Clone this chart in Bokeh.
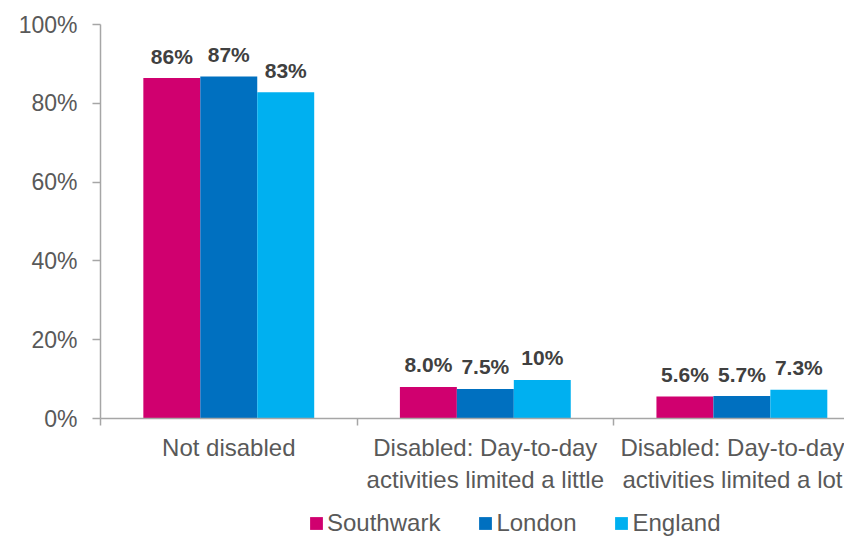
from bokeh.plotting import figure
from bokeh.layouts import column
from bokeh.models import ColumnDataSource, Range1d, FixedTicker, PrintfTickFormatter, Legend, LegendItem
from bokeh.core.properties import value
from bokeh.embed import file_html
from bokeh.resources import INLINE

categories = ["Not disabled",
              "Disabled: Day-to-day\nactivities limited a little",
              "Disabled: Day-to-day\nactivities limited a lot"]
series = ["Southwark", "London", "England"]
southwark = [86.4, 8.0, 5.6]
london = [86.8, 7.5, 5.7]
england = [82.8, 9.8, 7.3]
southwark_labels = ["86%", "8.0%", "5.6%"]
london_labels = ["87%", "7.5%", "5.7%"]
england_labels = ["83%", "10%", "7.3%"]
colors = ["#D0006F", "#0070C0", "#00B0F0"]
y_ticks = [0, 20, 40, 60, 80, 100]

FONT = "Liberation Sans"
BAR_W = 0.222
W = 844

p = figure(width=W, height=500, output_backend="svg", toolbar_location=None,
           x_range=Range1d(0, 2.9), y_range=Range1d(0, 100),
           min_border_left=100, min_border_right=0, min_border_top=24, min_border_bottom=82)
p.outline_line_color = None
p.grid.visible = False

centers = [i + 0.5 for i in range(len(categories))]
values_all = [southwark, london, england]
labels_all = [southwark_labels, london_labels, england_labels]
offsets = [-BAR_W, 0.0, BAR_W]

for name, vals, labs, col, off in zip(series, values_all, labels_all, colors, offsets):
    src = ColumnDataSource(dict(x=[c + off for c in centers], top=vals, lab=labs))
    p.vbar(x="x", top="top", width=BAR_W, bottom=0, source=src,
           fill_color=col, line_color=None)
    p.text(x="x", y="top", text="lab", source=src, text_align="center",
           text_baseline="alphabetic", y_offset=-22,
           text_font=value(FONT), text_font_size="21px", text_font_style="bold",
           text_color="#404040")

# y axis
ya = p.yaxis[0]
ya.ticker = FixedTicker(ticks=y_ticks)
ya.formatter = PrintfTickFormatter(format="%d%%")
ya.axis_line_color = "#A6A6A6"
ya.axis_line_width = 1.5
ya.major_tick_line_color = "#A6A6A6"
ya.major_tick_line_width = 1.5
ya.major_tick_out = 8
ya.major_tick_in = 0
ya.minor_tick_line_color = None
ya.major_label_standoff = 15
ya.major_label_text_font = FONT
ya.major_label_text_font_size = "23px"
ya.major_label_text_color = "#595959"

# x axis
xa = p.xaxis[0]
xa.ticker = FixedTicker(ticks=centers, minor_ticks=[0, 1, 2, 3])
xa.major_label_overrides = {c: lab for c, lab in zip(centers, categories)}
xa.axis_line_color = "#A6A6A6"
xa.axis_line_width = 1.5
xa.major_tick_line_color = None
xa.major_tick_out = 0
xa.major_tick_in = 0
xa.minor_tick_line_color = "#A6A6A6"
xa.minor_tick_line_width = 1.5
xa.minor_tick_out = 7
xa.minor_tick_in = 0
xa.major_label_standoff = 8
xa.major_label_text_font = FONT
xa.major_label_text_font_size = "24px"
xa.major_label_text_color = "#595959"
xa.major_label_text_align = "center"

# legend strip below the chart (dummy off-range zero-height renderers for swatches)
lf = figure(width=W, height=37, output_backend="svg", toolbar_location=None,
            x_range=Range1d(0, 1), y_range=Range1d(0, 1),
            x_axis_location=None, y_axis_location=None, min_border=0)
lf.outline_line_color = None
lf.grid.visible = False
items = []
for name, col in zip(series, colors):
    r = lf.vbar(x=[-5], top=[0], bottom=0, width=0.1, fill_color=col, line_color=None)
    items.append(LegendItem(label=name, renderers=[r]))
legend = Legend(items=items, orientation="horizontal", location=(208, 0),
                glyph_width=16, glyph_height=16, label_standoff=3, spacing=37,
                padding=0, margin=0, border_line_color=None,
                background_fill_alpha=0,
                label_text_font=FONT, label_text_font_size="24px",
                label_text_color="#595959")
lf.add_layout(legend, "center")

layout = column(p, lf, spacing=0)
open("out.html", "w").write(file_html(layout, INLINE))
